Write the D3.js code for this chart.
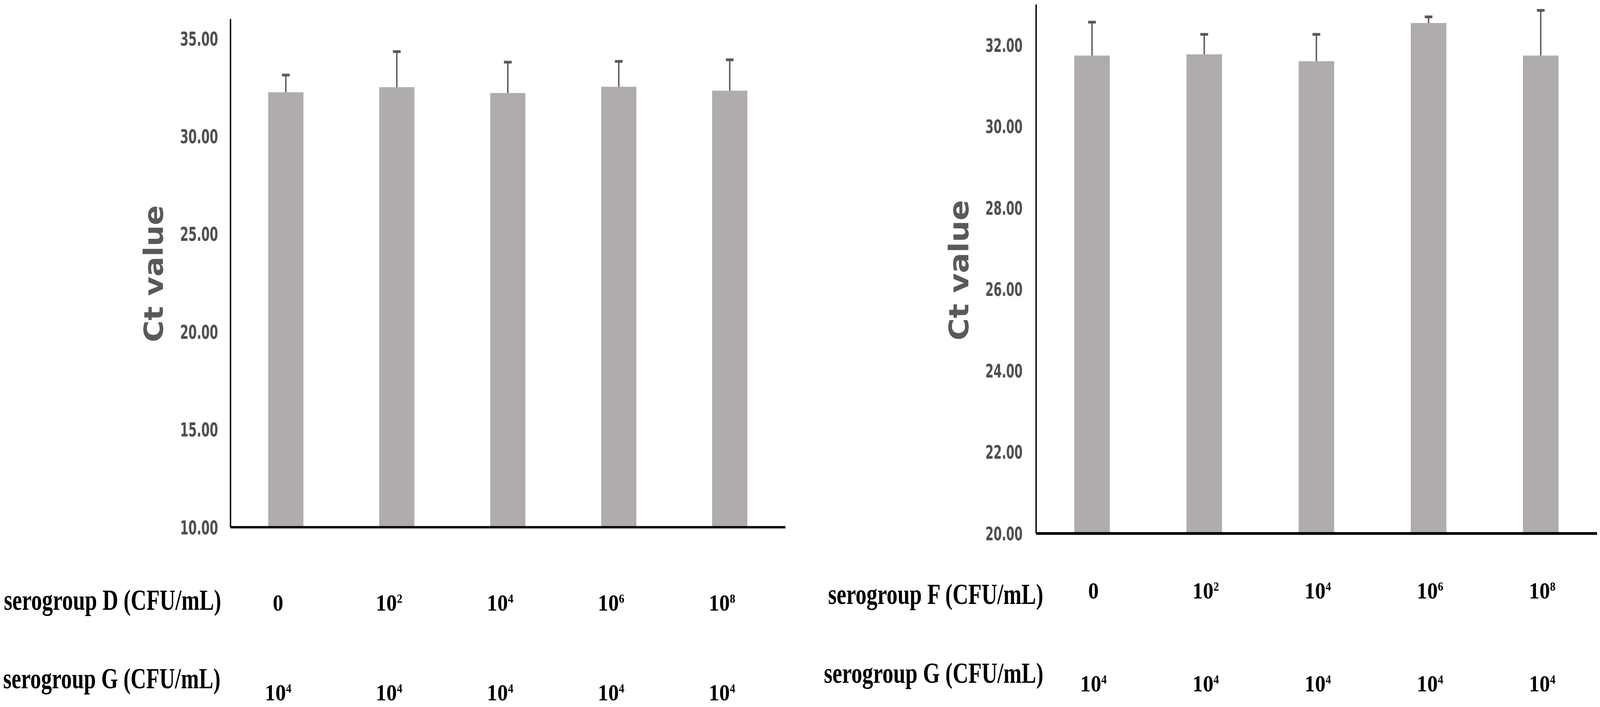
<!DOCTYPE html>
<html>
<head>
<meta charset="utf-8">
<script src="https://cdn.jsdelivr.net/npm/d3@7"></script>
<style>
  html, body { margin: 0; padding: 0; background: #ffffff; overflow: hidden; }
  svg { display: block; width: 100vw; height: 100vh; }
</style>
</head>
<body>
<svg id="chart" viewBox="0 0 4550 1811" preserveAspectRatio="none"></svg>
<script>
// ---------------- DATA ----------------
const yTitle = "Ct value";

// Left panel: serogroup D + serogroup G
const leftRowTitles = ["serogroup D (CFU/mL)", "serogroup G (CFU/mL)"];
const leftConcD = ["0", "10^2", "10^4", "10^6", "10^8"];
const leftConcG = ["10^4", "10^4", "10^4", "10^4", "10^4"];
const leftMean = [32.24, 32.50, 32.20, 32.52, 32.32];
const leftSD   = [0.94, 1.88, 1.64, 1.36, 1.64];
const leftTicks = [10, 15, 20, 25, 30, 35];
const leftDomain = [10, 36];

// Right panel: serogroup F + serogroup G
const rightRowTitles = ["serogroup F (CFU/mL)", "serogroup G (CFU/mL)"];
const rightConcF = ["0", "10^2", "10^4", "10^6", "10^8"];
const rightConcG = ["10^4", "10^4", "10^4", "10^4", "10^4"];
const rightMean = [31.74, 31.77, 31.60, 32.54, 31.74];
const rightSD   = [0.85, 0.52, 0.69, 0.18, 1.14];
const rightTicks = [20, 22, 24, 26, 28, 30, 32];
const rightDomain = [20, 33];

// ---------------- LAYOUT / STYLE ----------------
const BAR_COLOR = "#afacab";
const ERR_COLOR = "#595959";
const TICK_COLOR = "#4f4f4f";
const TITLE_COLOR = "#595959";

const svg = d3.select("#chart");

// squeeze a text horizontally so that it is exactly `w` wide, starting at (x, y)
function squeezeText(sel, x, y, w) {
  const natural = sel.node().getComputedTextLength();
  const sx = w / natural;
  sel.attr("transform", `translate(${x},${y}) scale(${sx},1)`);
}

function drawPanel(cfg) {
  const g = svg.append("g");
  const cats = cfg.rows[0];
  const x = d3.scaleBand()
    .domain(d3.range(cats.length))
    .range([cfg.x0, cfg.x1])
    .paddingInner(0.683)
    .paddingOuter(0.3415);
  const y = d3.scaleLinear().domain(cfg.domain).range([cfg.yBase, cfg.yTop]);

  // bars
  g.append("g").selectAll("rect")
    .data(cfg.mean)
    .join("rect")
    .attr("x", (d, i) => x(i))
    .attr("y", d => y(d))
    .attr("width", x.bandwidth())
    .attr("height", d => y(cfg.domain[0]) - y(d))
    .attr("fill", BAR_COLOR);

  // error bars (upper only)
  const eb = g.append("g");
  cfg.mean.forEach((m, i) => {
    const cx = x(i) + x.bandwidth() / 2;
    const top = y(m + cfg.sd[i]);
    eb.append("line")
      .attr("x1", cx).attr("x2", cx)
      .attr("y1", y(m)).attr("y2", top)
      .attr("stroke", ERR_COLOR).attr("stroke-width", 4);
    eb.append("line")
      .attr("x1", cx - 11).attr("x2", cx + 11)
      .attr("y1", top + 3).attr("y2", top + 3)
      .attr("stroke", ERR_COLOR).attr("stroke-width", 7);
  });

  // y axis
  const yAxis = d3.axisLeft(y)
    .tickValues(cfg.ticks)
    .tickFormat(d3.format(".2f"))
    .tickSize(0)
    .tickSizeOuter(0)
    .tickPadding(cfg.tickPad);
  const ya = g.append("g")
    .attr("transform", `translate(${cfg.x0},0)`)
    .call(yAxis);
  ya.select(".domain").attr("stroke", "#000").attr("stroke-width", 4);
  ya.selectAll(".tick text")
    .attr("font-family", "'DejaVu Sans', Verdana, sans-serif")
    .attr("font-weight", "bold")
    .attr("font-size", cfg.tickFont)
    .attr("fill", TICK_COLOR)
    .attr("dy", "0.36em")
    .attr("textLength", cfg.tickW)
    .attr("lengthAdjust", "spacingAndGlyphs");

  // x axis (line only)
  const xAxis = d3.axisBottom(x).tickSize(0).tickSizeOuter(0).tickFormat("");
  const xa = g.append("g")
    .attr("transform", `translate(0,${cfg.yBase})`)
    .call(xAxis);
  xa.select(".domain").attr("stroke", "#000").attr("stroke-width", cfg.xAxisW);

  // y title
  g.append("text")
    .attr("transform", `translate(${cfg.titleX},${cfg.titleY}) rotate(-90)`)
    .attr("text-anchor", "middle")
    .attr("font-family", "'DejaVu Sans', Verdana, sans-serif")
    .attr("font-weight", "bold")
    .attr("font-size", cfg.titleFont)
    .attr("fill", TITLE_COLOR)
    .text(yTitle);

  // row titles + concentration labels
  cfg.rowTitles.forEach((t, r) => {
    const rt = g.append("text")
      .attr("font-family", "'Liberation Serif', 'Times New Roman', serif")
      .attr("font-weight", "bold")
      .attr("font-size", 74)
      .attr("fill", "#000")
      .text(t);
    squeezeText(rt, cfg.rowTitleX[r], cfg.rowBase[r], cfg.rowTitleW[r]);

    const labels = cfg.rows[r];
    labels.forEach((lab, i) => {
      const parts = lab.split("^");
      const txt = g.append("text")
        .attr("x", x(i) + x.bandwidth() / 2 + cfg.valOffset)
        .attr("y", cfg.valBase[r])
        .attr("text-anchor", "middle")
        .attr("font-family", "'Liberation Serif', 'Times New Roman', serif")
        .attr("font-weight", "bold")
        .attr("font-size", 60)
        .attr("fill", "#000");
      txt.append("tspan").text(parts[0]);
      if (parts.length > 1) {
        txt.append("tspan")
          .attr("font-size", 31)
          .attr("dy", -20)
          .text(parts[1]);
      }
    });
  });
}

drawPanel({
  rows: [leftConcD, leftConcG],
  rowTitles: leftRowTitles,
  mean: leftMean, sd: leftSD,
  ticks: leftTicks, domain: leftDomain,
  x0: 655, x1: 2233, yTop: 48, yBase: 1350,
  tickPad: 35, tickFont: 50, tickW: 108,
  xAxisW: 6,
  titleX: 463, titleY: 701, titleFont: 76,
  rowTitleX: [11, 9], rowTitleW: [618, 618],
  rowBase: [1562, 1763], valBase: [1564, 1794],
  valOffset: -22
});

drawPanel({
  rows: [rightConcF, rightConcG],
  rowTitles: rightRowTitles,
  mean: rightMean, sd: rightSD,
  ticks: rightTicks, domain: rightDomain,
  x0: 2946, x1: 4541, yTop: 11, yBase: 1366,
  tickPad: 38, tickFont: 48, tickW: 106,
  xAxisW: 7,
  titleX: 2754, titleY: 692, titleFont: 78,
  rowTitleX: [2355, 2343], rowTitleW: [612, 624],
  rowBase: [1547, 1749], valBase: [1533, 1771],
  valOffset: 4
});
</script>
</body>
</html>
